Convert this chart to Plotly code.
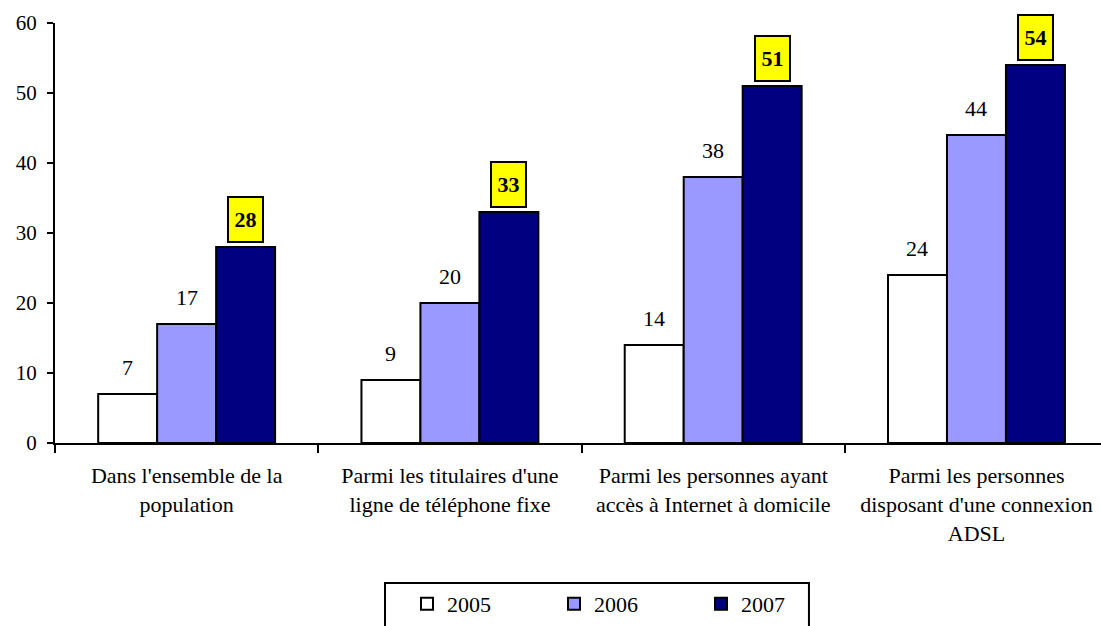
import plotly.graph_objects as go

categories = [
    "Dans l'ensemble de la<br>population",
    "Parmi les titulaires d'une<br>ligne de téléphone fixe",
    "Parmi les personnes ayant<br>accès à Internet à domicile",
    "Parmi les personnes<br>disposant d'une connexion<br>ADSL",
]
years = ["2005", "2006", "2007"]
v2005 = [7, 9, 14, 24]
v2006 = [17, 20, 38, 44]
v2007 = [28, 33, 51, 54]

colors = ["#FFFFFF", "#9999FF", "#000080"]
serif = "Liberation Serif"

fig = go.Figure()
for name, vals, col in zip(years, [v2005, v2006, v2007], colors):
    fig.add_trace(go.Bar(
        name=name, x=categories, y=vals,
        marker_color=col, marker_line_color="black", marker_line_width=2,
    ))

# value labels: 2005 / 2006 plain, 2007 in yellow boxes
annotations = []
for j, vals in enumerate([v2005, v2006, v2007]):
    for cat, v in zip(categories, vals):
        if j < 2:
            annotations.append(dict(
                x=cat, y=v, text=str(v), showarrow=False,
                xshift=(j - 1) * 59, yshift=27, yanchor="middle",
                font=dict(family=serif, size=22, color="black"),
            ))
        else:
            annotations.append(dict(
                x=cat, y=v, text="<b>%d</b>" % v, showarrow=False,
                xshift=59, yshift=4, yanchor="bottom",
                width=33, height=43, borderpad=0,
                bgcolor="#FFFF00", bordercolor="black", borderwidth=2,
                font=dict(family=serif, size=22, color="black"),
            ))

# frame around the legend (drawn as a shape so its size matches the original)
fig.add_shape(
    type="rect", xref="paper", yref="paper",
    x0=0.3155, x1=0.7208, y0=-0.3333, y1=-0.48,
    line=dict(color="black", width=2), fillcolor="rgba(0,0,0,0)",
)

fig.update_layout(
    width=1101, height=626,
    margin=dict(l=55, r=0, t=23, b=183),
    paper_bgcolor="white", plot_bgcolor="white",
    barmode="group", bargap=0.328, bargroupgap=0,
    font=dict(family=serif, size=20, color="black"),
    annotations=annotations,
    showlegend=True,
    legend=dict(
        orientation="h", xref="container", yref="container",
        x=407 / 1101, y=1 - 583 / 626, xanchor="left", yanchor="top",
        borderwidth=0, bgcolor="rgba(0,0,0,0)", entrywidth=102,
        font=dict(family=serif, size=22),
    ),
)
fig.update_xaxes(
    range=[-0.5, 3.473], showline=True, linecolor="black", linewidth=2,
    ticks="outside", tickson="boundaries", ticklen=8, tickwidth=2, tickcolor="black",
    tickfont=dict(family=serif, size=22), ticklabelstandoff=12,
    showgrid=False, automargin=False,
)
fig.update_yaxes(
    range=[0, 60], dtick=10, showline=True, linecolor="black", linewidth=2,
    ticks="outside", ticklen=6, tickwidth=2, tickcolor="black",
    tickfont=dict(family=serif, size=21), ticklabelstandoff=6,
    showgrid=False, zeroline=False, automargin=False,
)

fig.write_html("out.html", config={"displayModeBar": False},
               post_script="document.body.style.margin='0px';")
